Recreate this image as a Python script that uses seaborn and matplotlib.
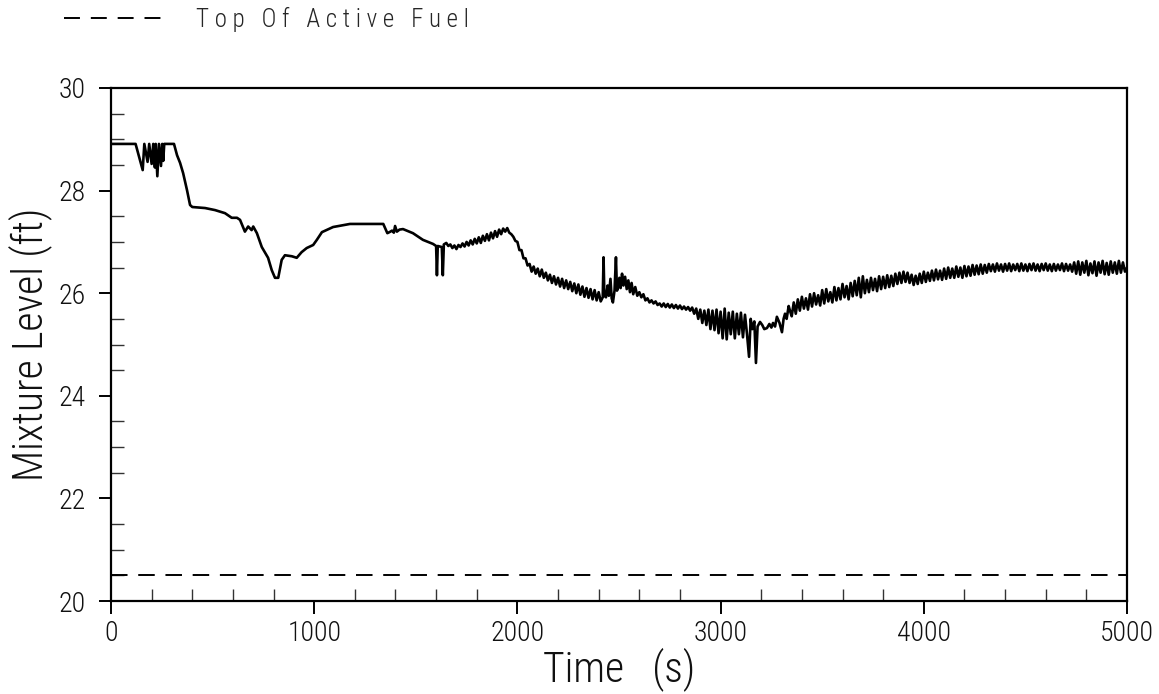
import matplotlib
matplotlib.use("Agg")
import matplotlib.pyplot as plt
import seaborn as sns
import pandas as pd
from matplotlib.lines import Line2D
from matplotlib.ticker import MultipleLocator

# ---------------- data ----------------
t_early = [0, 121, 156, 164, 180, 188, 200, 208, 216, 220, 228, 236, 246, 252, 257, 262,
           310, 325, 340, 355, 374, 389, 400, 463, 512, 561, 594, 620, 635, 659, 675, 692,
           700, 718, 742, 773, 791, 807, 823, 840, 856, 890, 914, 938, 963, 995, 1013, 1038,
           1093, 1176, 1340, 1360, 1375, 1383, 1392, 1398, 1407, 1420, 1437, 1486, 1535,
           1585, 1600, 1604, 1608, 1628, 1633, 1638]
lvl_early = [28.91, 28.91, 28.40, 28.91, 28.56, 28.91, 28.52, 28.91, 28.45, 28.91, 28.28, 28.91,
             28.48, 28.91, 28.58, 28.91,
             28.91, 28.69, 28.54, 28.34, 28.01, 27.72, 27.68, 27.66, 27.62, 27.56, 27.47, 27.47,
             27.43, 27.20, 27.30, 27.23,
             27.30, 27.17, 26.90, 26.69, 26.45, 26.30, 26.30, 26.65, 26.74, 26.72, 26.69, 26.80,
             26.88, 26.94, 27.04, 27.19,
             27.29, 27.35, 27.35, 27.17, 27.20, 27.22, 27.18, 27.31, 27.20, 27.24, 27.25, 27.17,
             27.04,
             26.96, 26.92, 26.35, 26.92, 26.90, 26.35, 26.95]

t_rise = [1650, 1660, 1670, 1680, 1690, 1700, 1710, 1720, 1730, 1740, 1750, 1760, 1770, 1780,
          1790, 1800, 1810, 1820, 1830, 1840, 1850, 1860, 1870, 1880, 1890, 1900, 1910, 1920,
          1930, 1940, 1950, 1960, 1970, 1980, 1990]
lvl_rise = [26.98, 26.92, 26.95, 26.88, 26.93, 26.86, 26.94, 26.90, 26.97, 26.91,
            27.00, 26.93, 27.03, 26.95, 27.06, 26.97, 27.09, 26.98, 27.12, 27.02,
            27.15, 27.03, 27.18, 27.07, 27.21, 27.10, 27.24, 27.15, 27.26, 27.20,
            27.27, 27.18, 27.15, 27.10, 27.02]

t_fall = [2000, 2010, 2020, 2030, 2040, 2050, 2060, 2070, 2080, 2090, 2100, 2110, 2120, 2130,
          2140, 2150, 2160, 2170, 2180, 2190, 2200, 2210, 2220, 2230, 2240, 2250, 2260, 2270,
          2280, 2290, 2300, 2310, 2320, 2330, 2340, 2350, 2360, 2370, 2380, 2390, 2400, 2410,
          2420]
lvl_fall = [27.00, 26.84, 26.84, 26.68, 26.68, 26.54, 26.57, 26.42, 26.52, 26.38, 26.48, 26.33,
            26.46, 26.30, 26.40, 26.25, 26.36, 26.20, 26.33, 26.17, 26.30, 26.13, 26.28, 26.10,
            26.25, 26.08, 26.22, 26.04, 26.19, 26.00, 26.17, 25.97, 26.13, 25.93, 26.10, 25.91,
            26.08, 25.88, 26.06, 25.86, 26.02, 25.84, 25.92]

t_spikes = [2424, 2428, 2436, 2444, 2450, 2458, 2464, 2470, 2478, 2485, 2490, 2495, 2502, 2508,
            2515, 2522, 2530, 2538, 2546, 2554, 2562, 2570, 2580, 2590, 2600, 2610, 2620, 2630,
            2640, 2650, 2660, 2670, 2680, 2690, 2700, 2710, 2720, 2730, 2740, 2750, 2760, 2770,
            2780, 2790, 2800, 2810, 2820, 2830, 2840, 2850, 2860]
lvl_spikes = [26.70, 25.95, 25.92, 26.15, 25.95, 26.28, 25.90, 25.82, 26.05, 26.70, 26.05, 26.10,
              26.30, 26.10, 26.38, 26.15, 26.32, 26.08, 26.25, 26.02, 26.20, 25.98, 26.12, 25.95,
              26.02, 25.92, 25.98, 25.86, 25.90, 25.82, 25.86, 25.80, 25.84, 25.77, 25.80, 25.74,
              25.80, 25.73, 25.79, 25.72, 25.78, 25.71, 25.77, 25.70, 25.76, 25.69, 25.74, 25.68,
              25.73, 25.66, 25.72]

t_osc = [2870, 2880, 2890, 2900, 2910, 2920, 2930, 2940, 2950, 2960, 2970, 2980, 2990, 3000,
         3010, 3020, 3030, 3040, 3050, 3060, 3070, 3080, 3090, 3100, 3110, 3120, 3130,
         3140, 3148, 3156, 3166, 3174, 3182, 3194, 3205, 3215, 3228, 3240, 3250, 3258, 3268,
         3277, 3290, 3302, 3310, 3317, 3325, 3335, 3342]
lvl_osc = [25.60, 25.70, 25.50, 25.68, 25.42, 25.66, 25.38, 25.68, 25.30, 25.66, 25.28, 25.68,
           25.22, 25.64, 25.12, 25.70, 25.10, 25.62, 25.20, 25.64, 25.12, 25.60, 25.20, 25.62,
           25.14, 25.58, 25.20,
           24.76, 25.50, 25.30, 25.45, 24.64, 25.35, 25.44, 25.38, 25.30, 25.32, 25.40, 25.33,
           25.42, 25.35, 25.54, 25.42, 25.24, 25.50, 25.60, 25.50, 25.75, 25.65]

t_recov = [3350, 3360, 3370, 3380, 3390, 3400, 3410, 3420, 3430, 3440, 3450, 3460, 3470, 3480,
           3490, 3500, 3510, 3520, 3530, 3540, 3550, 3560, 3570, 3580, 3590, 3600, 3610, 3620,
           3630, 3640, 3650, 3660, 3670, 3680, 3690, 3700, 3710, 3720, 3730, 3740, 3750, 3760,
           3770, 3780, 3790, 3800, 3810, 3820, 3830, 3840, 3850, 3860, 3870, 3880, 3890, 3900,
           3910, 3920, 3930, 3940, 3950, 3960, 3970, 3980, 3990, 4000, 4010, 4020, 4030, 4040,
           4050, 4060, 4070, 4080, 4090, 4100, 4110, 4120, 4130, 4140, 4150, 4160, 4170, 4180,
           4190, 4200, 4210, 4220, 4230, 4240, 4250, 4260, 4270, 4280, 4290, 4300]
lvl_recov = [25.55, 25.82, 25.60, 25.88, 25.66, 25.93, 25.70, 25.90, 25.68, 25.98, 25.74, 26.00,
             25.78, 25.96, 25.76, 26.06, 25.80, 26.08, 25.84, 26.02, 25.82, 26.12, 25.86, 26.10,
             25.88, 26.18, 25.92, 26.14, 25.88, 26.20, 25.94, 26.24, 25.96, 26.30, 25.92, 26.33,
             26.00, 26.26, 26.02, 26.30, 26.06, 26.28, 26.04, 26.33, 26.08, 26.32, 26.10, 26.35,
             26.12, 26.34, 26.14, 26.38, 26.18, 26.40, 26.20, 26.42, 26.22, 26.40, 26.20, 26.36,
             26.16, 26.34, 26.18, 26.38, 26.20, 26.42, 26.22, 26.40, 26.24, 26.44, 26.25, 26.46,
             26.27, 26.44, 26.26, 26.48, 26.28, 26.50, 26.30, 26.48, 26.30, 26.52, 26.32, 26.50,
             26.30, 26.53, 26.33, 26.52, 26.34, 26.55, 26.36, 26.54, 26.37, 26.56, 26.38, 26.55]

t_late = [4310, 4320, 4330, 4340, 4350, 4360, 4370, 4380, 4390, 4400, 4410, 4420, 4430, 4440,
          4450, 4460, 4470, 4480, 4490, 4500, 4510, 4520, 4530, 4540, 4550, 4560, 4570, 4580,
          4590, 4600, 4610, 4620, 4630, 4640, 4650, 4660, 4670, 4680, 4690, 4700, 4710, 4720,
          4730, 4740, 4750, 4760, 4770, 4780, 4790, 4800, 4810, 4820, 4830, 4840, 4850, 4860,
          4870, 4880, 4890, 4900, 4910, 4920, 4930, 4940, 4950, 4960, 4970, 4980, 4990, 5000]
lvl_late = [26.40, 26.57, 26.43, 26.56, 26.42, 26.58, 26.44, 26.56, 26.42, 26.57, 26.44, 26.58,
            26.43, 26.56, 26.45, 26.57, 26.43, 26.58, 26.44, 26.56, 26.43, 26.57, 26.45, 26.58,
            26.44, 26.56, 26.43, 26.57, 26.45, 26.58, 26.44, 26.56, 26.43, 26.57, 26.44, 26.56,
            26.45, 26.58, 26.43, 26.57, 26.44, 26.56, 26.42, 26.60, 26.38, 26.62, 26.36, 26.60,
            26.40, 26.63, 26.35, 26.58, 26.39, 26.62, 26.34, 26.60, 26.40, 26.63, 26.37, 26.59,
            26.36, 26.62, 26.40, 26.60, 26.38, 26.63, 26.40, 26.60, 26.42, 26.50]

taf_level = 20.5
legend_label = "T o p   O f   A c t i v e   F u e l"
x_label = "Time   (s)"
y_label = "Mixture Level (ft)"

# ---------------- build frame ----------------
times = t_early + t_rise + t_fall + t_spikes + t_osc + t_recov + t_late
levels = lvl_early + lvl_rise + lvl_fall + lvl_spikes + lvl_osc + lvl_recov + lvl_late
n = min(len(times), len(levels))
df = pd.DataFrame({"Time": times[:n], "Level": levels[:n]})

# ---------------- style ----------------
sns.set_theme(style="white")
FONT = ["Liberation Sans Narrow", "Roboto Condensed", "Roboto", "DejaVu Sans"]
plt.rcParams["font.family"] = FONT
plt.rcParams["font.weight"] = "light"

fig = plt.figure(figsize=(11.59, 6.94), dpi=100)
ax = fig.add_axes([111 / 1159, 1 - 601 / 694, (1127 - 111) / 1159, (601 - 88) / 694])

sns.lineplot(data=df, x="Time", y="Level", ax=ax, color="black", linewidth=1.9,
             estimator=None, sort=False)
ax.axhline(taf_level, color="black", linewidth=1.4, linestyle=(0, (8.5, 5.5)))

ax.set_xlim(0, 5000)
ax.set_ylim(20, 30)
ax.xaxis.set_major_locator(MultipleLocator(1000))
ax.xaxis.set_minor_locator(MultipleLocator(200))
ax.yaxis.set_major_locator(MultipleLocator(2))
ax.yaxis.set_minor_locator(MultipleLocator(0.5))

ax.tick_params(which="major", direction="out", length=9, width=1.4, color="black",
               labelsize=20, pad=5, bottom=True, left=True, top=False, right=False,
               labelcolor="#111111")
ax.tick_params(which="minor", direction="in", length=9, width=1.0, color="#333333",
               bottom=True, left=True, top=False, right=False)
ax.tick_params(axis="y", which="major", pad=9)
for lab in ax.get_xticklabels() + ax.get_yticklabels():
    lab.set_fontweight("light")

for s in ax.spines.values():
    s.set_color("black")
    s.set_linewidth(1.6)

ax.set_xlabel(x_label, fontsize=30, color="#111111", labelpad=0, fontweight="light")
ax.set_ylabel(y_label, fontsize=30, color="#111111", labelpad=5, fontweight="light")

handle = Line2D([], [], color="black", linewidth=1.4, linestyle=(0, (8.2, 5.6)))
fig.legend(handles=[handle], labels=[legend_label], loc="center left",
           bbox_to_anchor=(64 / 1159, 1 - 19 / 694), frameon=False,
           prop={"size": 18, "weight": "light"},
           handlelength=4.1, handletextpad=1.2, borderpad=0, borderaxespad=0)

fig.savefig("out.png", dpi=100)
